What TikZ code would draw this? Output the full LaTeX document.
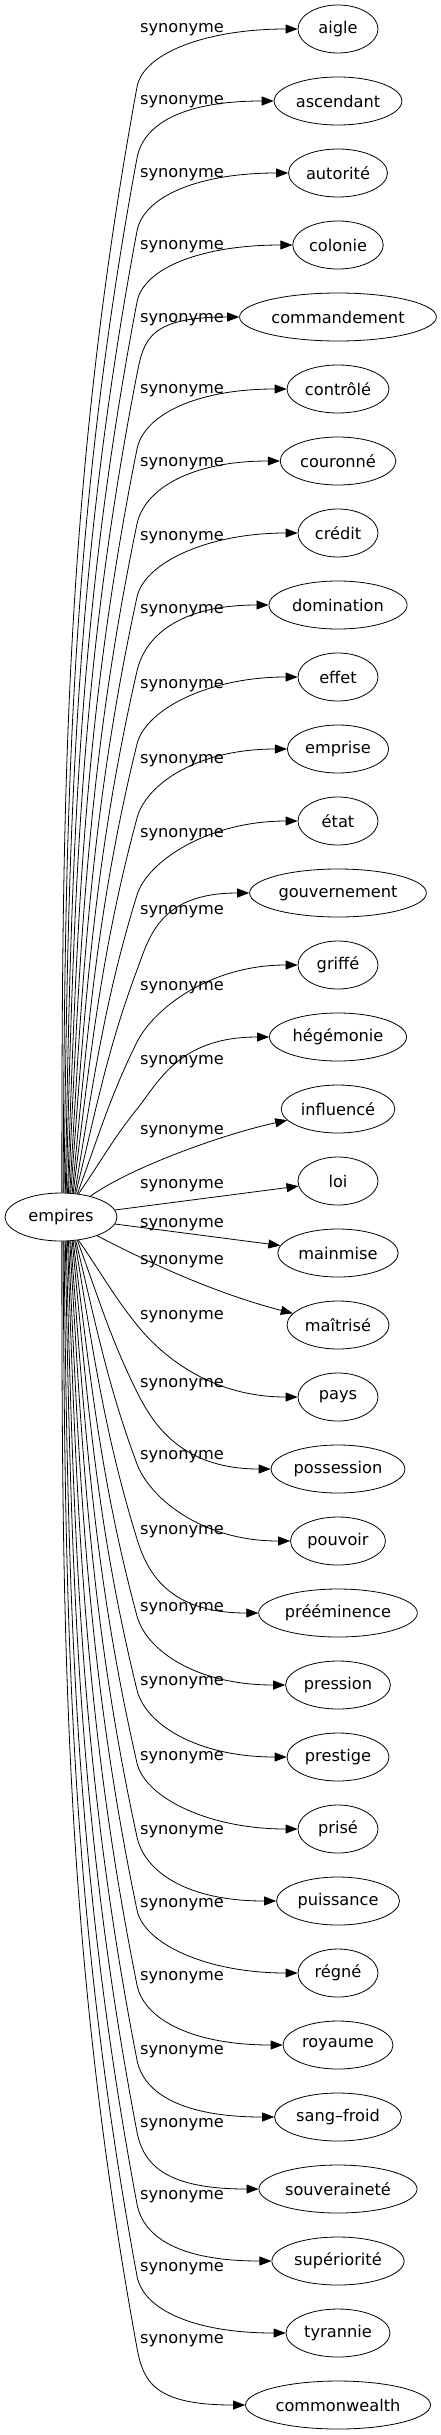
\documentclass[tikz,border=0pt]{standalone}
\usepackage{fontspec}
\setmainfont{DejaVu Sans}
\usetikzlibrary{arrows.meta,calc,shapes.geometric}
\begin{document}
\begin{tikzpicture}[x=1pt,y=-1pt,
	sin/.style={draw,ellipse,line width=0.8pt,minimum width=80pt,minimum height=48pt,inner xsep=3pt,font=\fontsize{16.2pt}{19pt}\selectfont},
	etiq/.style={inner sep=0pt,font=\fontsize{16.2pt}{19pt}\selectfont},
	>={Triangle[length=12pt,width=9pt]}]
			\useasboundingbox (0,0) rectangle (440,2435);
			\node[sin,minimum width=112pt] (empires) at (61,1217) {empires};

			% sinonimos y etiquetas
			\foreach \nom/\ly [count=\i from 0] in {aigle/30,ascendant/102,autorité/175,colonie/247,commandement/320,contrôlé/391,couronné/464,crédit/538,domination/611,effet/686,emprise/761,état/835,gouvernement/912,griffé/988,hégémonie/1062,influencé/1132,loi/1186,mainmise/1225,maîtrisé/1262,pays/1317,possession/1385,pouvoir/1457,prééminence/1532,pression/1609,prestige/1683,prisé/1758,puissance/1832,régné/1905,royaume/1978,sang--froid/2052,souveraineté/2125,supériorité/2197,tyrannie/2269,commonwealth/2341}{
				\node[sin] (s\i) at (338,29+72*\i) {\nom};
				\node[etiq] (e\i) at (182,\ly) {synonyme};
			}

			% aristas largas
			\begin{scope}[->,line width=0.8pt]
			\foreach \i/\ky in {0/87,1/158,2/231,3/302,4/374,5/449,6/524,7/597,8/671,9/744,10/818,11/895,12/970,13/1042,14/1109,19/1325,20/1392,21/1464,22/1539,23/1616,24/1690,25/1763,26/1837,27/1910,28/1985,29/2060,30/2132,31/2204,32/2276,33/2348}{
				\pgfmathsetmacro{\yn}{29+72*\i}
				\pgfmathsetmacro{\sg}{\yn<1217 ? -1 : 1}
				\pgfmathsetmacro{\jj}{\yn<1217 ? \i : 33-\i}
				\pgfmathtruncatemacro{\ang}{-\sg*(88-2.5*\jj)}
				\pgfmathsetmacro{\sx}{62+1.14*\jj}
				\pgfmathsetmacro{\sy}{1217+\sg*23}
				\pgfmathsetmacro{\lon}{abs(\ky-\sy)}
				\pgfmathsetmacro{\fr}{1-\lon/1107}
				\pgfmathsetmacro{\cax}{\sx+0.4*\fr*(137-\sx)}
				\pgfmathsetmacro{\cay}{\sy+\sg*0.36*\lon}
				\pgfmathsetmacro{\cbx}{\sx+(0.03+0.6*\fr)*(137-\sx)}
				\pgfmathsetmacro{\cby}{\ky-\sg*0.36*\lon}
				\pgfmathsetmacro{\nn}{veclen(137-\cbx,\ky-\cby)}
				\pgfmathsetmacro{\ccx}{137+35*(137-\cbx)/\nn}
				\pgfmathsetmacro{\ccy}{\ky+35*(\ky-\cby)/\nn}
				\draw (empires.\ang) .. controls (\cax,\cay) and (\cbx,\cby) .. (137,\ky)
					.. controls (\ccx,\ccy) and ($(s\i.west)+(-90,0)$) .. (s\i.west);
			}
			% aristas centrales
			\draw (empires) .. controls (130,1168) and (220,1135) .. (s15);
			\draw (empires) -- (s16);
			\draw (empires) -- (s17);
			\draw (empires) .. controls (140,1258) and (210,1292) .. (s18);
			\end{scope}
\end{tikzpicture}
\end{document}
